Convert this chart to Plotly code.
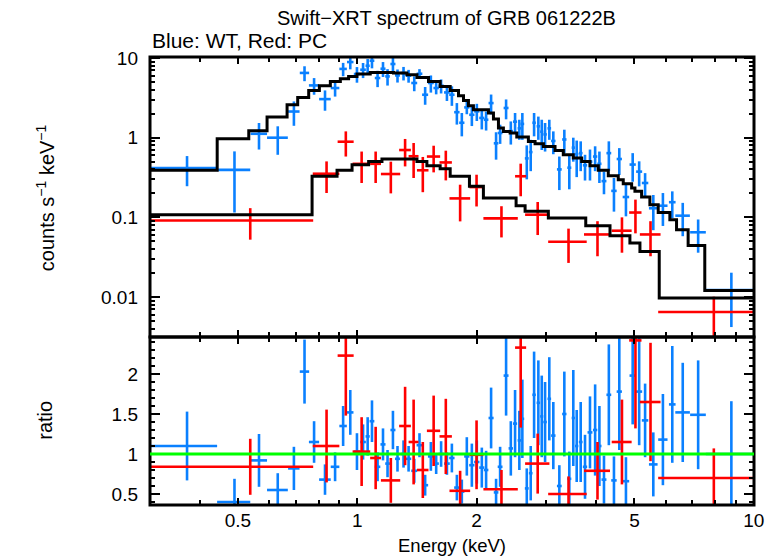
import math
import plotly.graph_objects as go

# ---------------- data ----------------
# WT mode (blue) spectrum: bin centre / half width (keV), counts s^-1 keV^-1 and error, ratio and error
wt_energy = [0.372, 0.490, 0.565, 0.630, 0.692, 0.736, 0.778, 0.829, 0.879, 0.921,
             0.960, 0.998, 1.034, 1.062, 1.089, 1.125, 1.161, 1.192, 1.230, 1.263,
             1.308, 1.347, 1.392, 1.435, 1.483, 1.533, 1.581, 1.627, 1.683, 1.732,
             1.783, 1.835, 1.889, 1.945, 2.002, 2.061, 2.113, 2.175, 2.239, 2.292,
             2.373, 2.439, 2.500, 2.563, 2.608, 2.676, 2.738, 2.792, 2.862, 2.919,
             2.976, 3.050, 3.122, 3.233, 3.328, 3.426, 3.506, 3.576, 3.660, 3.753,
             3.863, 3.98, 4.08, 4.19, 4.31, 4.44, 4.58, 4.76, 4.95, 5.14,
             5.32, 5.58, 5.90, 6.23, 6.62, 7.24, 8.78]
wt_energy_err = [0.071, 0.047, 0.027, 0.038, 0.023, 0.020, 0.023, 0.028, 0.022, 0.020,
                 0.018, 0.018, 0.017, 0.013, 0.015, 0.018, 0.017, 0.016, 0.018, 0.018,
                 0.021, 0.021, 0.024, 0.024, 0.026, 0.026, 0.025, 0.025, 0.028, 0.027,
                 0.028, 0.028, 0.029, 0.030, 0.031, 0.031, 0.028, 0.032, 0.030, 0.032,
                 0.034, 0.031, 0.030, 0.026, 0.028, 0.030, 0.029, 0.028, 0.029, 0.026,
                 0.030, 0.032, 0.040, 0.045, 0.042, 0.040, 0.033, 0.035, 0.040, 0.047,
                 0.055, 0.050, 0.050, 0.060, 0.060, 0.070, 0.070, 0.090, 0.090, 0.090,
                 0.100, 0.140, 0.160, 0.120, 0.280, 0.330, 1.210]
wt_counts = [0.417, 0.394, 1.12, 1.00, 2.13, 6.5, 4.53, 3.05, 4.2, 7.3,
             8.9, 6.3, 7.13, 8.0, 9.25, 5.61, 7.34, 5.88, 8.41, 6.05,
             6.48, 6.0, 4.86, 6.35, 3.46, 4.86, 4.20, 4.49, 3.70, 3.46,
             2.09, 1.54, 2.4, 1.94, 2.14, 1.77, 1.68, 2.72, 0.85, 1.146,
             2.36, 1.21, 1.59, 1.31, 1.49, 0.55, 0.66, 1.54, 1.39, 1.19,
             1.1, 1.31, 0.91, 0.40, 0.95, 0.42, 0.75, 0.62, 0.64, 0.45,
             0.50, 0.58, 0.47, 0.285, 0.64, 0.215, 0.54, 0.18, 0.46, 0.375,
             0.27, 0.13, 0.14, 0.155, 0.105, 0.065, 0.0122]
wt_counts_err = [0.171, 0.279, 0.41, 0.39, 0.72, 1.38, 1.07, 0.87, 0.92, 1.39,
                 1.69, 1.4, 1.53, 1.71, 1.83, 1.3, 1.56, 1.37, 1.6, 1.13,
                 1.25, 1.1, 1.03, 0.9, 0.87, 1.18, 0.7, 0.9, 0.81, 0.95,
                 0.63, 0.5, 0.43, 0.54, 0.52, 0.5, 0.45, 0.76, 0.32, 0.31,
                 0.66, 0.39, 0.45, 0.37, 0.55, 0.25, 0.28, 0.5, 0.45, 0.49,
                 0.43, 0.37, 0.29, 0.18, 0.31, 0.195, 0.25, 0.3, 0.26, 0.16,
                 0.21, 0.2, 0.2, 0.09, 0.26, 0.097, 0.2, 0.077, 0.18, 0.13,
                 0.089, 0.061, 0.062, 0.057, 0.047, 0.029, 0.008]
wt_ratio = [1.10, 0.40, 0.92, 0.55, 0.82, 2.03, 1.15, 0.68, 0.84, 1.35,
            1.52, 1.03, 1.15, 1.22, 1.41, 0.84, 1.12, 0.88, 1.30, 0.94,
            1.00, 0.94, 0.79, 1.11, 0.61, 0.97, 0.88, 1.00, 0.88, 0.95,
            0.58, 0.53, 0.97, 0.86, 0.90, 0.83, 0.80, 1.45, 0.52, 0.84,
            1.98, 1.07, 1.38, 1.17, 1.44, 0.57, 0.76, 1.74, 1.64, 1.47,
            1.40, 1.69, 1.23, 0.60, 1.50, 0.69, 1.45, 1.10, 1.15, 0.84,
            1.27, 1.30, 1.10, 0.68, 1.74, 0.67, 1.78, 0.66, 1.98, 1.78,
            1.42, 0.87, 1.18, 1.62, 1.52, 1.49, 1.00]
wt_ratio_err = [0.43, 0.29, 0.33, 0.21, 0.27, 0.40, 0.26, 0.19, 0.18, 0.25,
                0.28, 0.23, 0.22, 0.24, 0.26, 0.18, 0.20, 0.17, 0.24, 0.16,
                0.17, 0.16, 0.15, 0.15, 0.13, 0.18, 0.13, 0.16, 0.14, 0.18,
                0.16, 0.15, 0.24, 0.27, 0.27, 0.25, 0.24, 0.38, 0.17, 0.25,
                0.50, 0.34, 0.42, 0.37, 0.49, 0.25, 0.34, 0.54, 0.53, 0.51,
                0.50, 0.52, 0.42, 0.26, 0.53, 0.34, 0.60, 0.45, 0.50, 0.40,
                0.45, 0.57, 0.50, 0.30, 0.63, 0.30, 0.73, 0.30, 0.61, 0.67,
                0.46, 0.40, 0.57, 0.73, 0.62, 0.68, 0.66]

# PC mode (red) spectrum
pc_energy = [0.537, 0.8365, 0.9355, 1.0255, 1.1125, 1.215, 1.32, 1.387, 1.463, 1.558,
             1.672, 1.817, 1.999, 2.31, 2.583, 2.851, 3.41, 4.035, 4.651, 5.03,
             5.49, 7.93]
pc_energy_err = [0.237, 0.0645, 0.0435, 0.0525, 0.035, 0.068, 0.045, 0.04, 0.049, 0.06,
                 0.06, 0.109, 0.081, 0.23, 0.083, 0.201, 0.38, 0.304, 0.269, 0.18,
                 0.33, 2.19]
pc_counts = [0.0915, 0.353, 0.89, 0.47, 0.47, 0.35, 0.70, 0.585, 0.39, 0.58,
             0.489, 0.173, 0.24, 0.097, 0.328, 0.108, 0.0495, 0.061, 0.068, 0.115,
             0.061, 0.0065]
pc_counts_err = [0.039, 0.151, 0.31, 0.20, 0.20, 0.15, 0.264, 0.273, 0.183, 0.213,
                 0.198, 0.084, 0.103, 0.041, 0.144, 0.048, 0.0227, 0.0285, 0.032, 0.052,
                 0.0285, 0.0036]
pc_ratio = [0.84, 1.10, 2.23, 1.03, 0.95, 0.67, 1.35, 1.15, 0.80, 1.29,
            1.22, 0.54, 0.99, 0.56, 2.33, 0.88, 0.50, 0.79, 1.15, 2.42,
            1.65, 0.70]
pc_ratio_err = [0.35, 0.455, 0.75, 0.43, 0.39, 0.28, 0.49, 0.53, 0.35, 0.44,
                0.47, 0.25, 0.43, 0.24, 1.0, 0.375, 0.22, 0.36, 0.53, 1.1,
                0.74, 0.37]

# best-fit model (histogram steps): bin edges (keV) and model values
wt_model_edges = [0.3, 0.4432, 0.5324, 0.5921, 0.6651, 0.7074, 0.7541, 0.8023, 0.8551, 0.9062,
                  0.9508, 0.998, 1.078, 1.234, 1.334, 1.414, 1.512, 1.618, 1.715, 1.800,
                  1.853, 1.907, 1.963, 2.142, 2.205, 2.270, 2.336, 2.429, 2.525, 2.701,
                  2.808, 2.947, 3.153, 3.308, 3.506, 3.681, 3.863, 4.054, 4.296, 4.552,
                  4.686, 4.920, 5.015, 5.213, 5.470, 5.741, 6.143, 6.386, 6.831, 7.524,
                  10.0]
wt_model_vals = [0.389, 0.971, 1.224, 1.818, 2.594, 3.203, 3.922, 4.49, 5.09, 5.50,
                 5.88, 6.30, 6.60, 6.48, 6.17, 5.71, 5.09, 4.40, 3.922, 3.365,
                 2.938, 2.52, 2.25, 2.04, 1.717, 1.32, 1.20, 1.146, 1.02, 0.899,
                 0.841, 0.778, 0.693, 0.612, 0.556, 0.504, 0.445, 0.389, 0.334, 0.297,
                 0.265, 0.234, 0.212, 0.180, 0.144, 0.1155, 0.0936, 0.0701, 0.0442, 0.0121]
pc_model_edges = [0.3, 0.769, 0.889, 0.970, 1.068, 1.154, 1.414, 1.498, 1.618, 1.715,
                  1.918, 2.080, 2.515, 2.650, 3.033, 3.769, 4.339, 4.871, 5.163, 5.775,
                  10.0]
pc_model_vals = [0.108, 0.327, 0.389, 0.458, 0.504, 0.540, 0.504, 0.445, 0.408, 0.327,
                 0.245, 0.175, 0.140, 0.119, 0.0983, 0.0787, 0.0589, 0.0477, 0.0374, 0.00975]

ratio_reference = 1.0

# axis ticks / labels
energy_tick_vals = [0.5, 1, 2, 5, 10]
energy_tick_text = ["0.5", "1", "2", "5", "10"]
energy_minor_vals = [0.3, 0.4, 0.6, 0.7, 0.8, 0.9, 3, 4, 6, 7, 8, 9]
counts_tick_vals = [0.01, 0.1, 1, 10]
counts_tick_text = ["0.01", "0.1", "1", "10"]
ratio_tick_vals = [0.5, 1, 1.5, 2]
ratio_tick_text = ["0.5", "1", "1.5", "2"]

title_text = "Swift\u2212XRT spectrum of GRB 061222B"
subtitle_text = "Blue: WT, Red: PC"
counts_title = "counts s<sup>\u22121</sup> keV<sup>\u22121</sup>"
ratio_title = "ratio"
energy_title = "Energy (keV)"

# ---------------- styling ----------------
BLUE = "#0A80FF"
RED = "#FF0000"
GREEN = "#00FF00"
FONT = "Liberation Sans, Arial, sans-serif"
EB = 2.6

counts_minor_vals = [m * d for d in (0.001, 0.01, 0.1, 1) for m in range(2, 10)]
ratio_minor_vals = [round(0.3 + 0.1 * i, 2) for i in range(22)]

fig = go.Figure()


def data_trace(x, xe, y, ye, color, xa, ya):
    return go.Scatter(
        x=x, y=y, mode="markers", xaxis=xa, yaxis=ya, showlegend=False,
        marker=dict(size=2, color=color),
        error_x=dict(type="data", array=xe, color=color, thickness=EB, width=0),
        error_y=dict(type="data", array=ye, color=color, thickness=EB, width=0),
        hoverinfo="skip",
    )


fig.add_trace(data_trace(wt_energy, wt_energy_err, wt_counts, wt_counts_err, BLUE, "x", "y"))
fig.add_trace(data_trace(pc_energy, pc_energy_err, pc_counts, pc_counts_err, RED, "x", "y"))
for edges, vals in ((wt_model_edges, wt_model_vals), (pc_model_edges, pc_model_vals)):
    fig.add_trace(go.Scatter(
        x=edges, y=list(vals) + [vals[-1]], mode="lines", xaxis="x", yaxis="y",
        line=dict(color="black", width=3, shape="hv"), showlegend=False, hoverinfo="skip"))

fig.add_trace(data_trace(wt_energy, wt_energy_err, wt_ratio, wt_ratio_err, BLUE, "x2", "y2"))
fig.add_trace(data_trace(pc_energy, pc_energy_err, pc_ratio, pc_ratio_err, RED, "x2", "y2"))

xr = [math.log10(0.3), math.log10(10) + 0.0006]
common_x = dict(type="log", range=xr, showline=False, showgrid=False, zeroline=False,
                ticks="inside", mirror="ticks", ticklen=7, tickwidth=2, tickcolor="black",
                tickvals=energy_tick_vals, ticktext=energy_tick_text,
                minor=dict(tickvals=energy_minor_vals, ticks="inside", ticklen=5,
                           tickwidth=2, tickcolor="black", showgrid=False),
                tickfont=dict(family=FONT, size=19, color="black"))

fig.update_layout(
    width=778, height=556,
    margin=dict(l=150, r=24, t=57, b=51),
    paper_bgcolor="white", plot_bgcolor="white",
    font=dict(family=FONT, color="black"),
    hovermode=False,
    xaxis=dict(common_x, anchor="y", showticklabels=False, domain=[0, 1]),
    xaxis2=dict(common_x, anchor="y2", matches="x", domain=[0, 1], ticklabelstandoff=2),
    yaxis=dict(type="log", domain=[0.375, 1], anchor="x",
               range=[math.log10(0.00315), math.log10(10.3)],
               showline=False, showgrid=False, zeroline=False,
               ticks="inside", mirror="ticks", ticklen=10, tickwidth=2, tickcolor="black",
               tickvals=counts_tick_vals, ticktext=counts_tick_text,
               minor=dict(tickvals=counts_minor_vals, ticks="inside", ticklen=5,
                          tickwidth=2, tickcolor="black", showgrid=False),
               tickfont=dict(family=FONT, size=19, color="black"), ticklabelstandoff=11),
    yaxis2=dict(domain=[0, 0.375], anchor="x2", range=[0.3625, 2.4625],
                showline=False, showgrid=False, zeroline=False,
                ticks="inside", mirror="ticks", ticklen=10, tickwidth=2, tickcolor="black",
                tickvals=ratio_tick_vals, ticktext=ratio_tick_text,
                minor=dict(tickvals=ratio_minor_vals, ticks="inside", ticklen=5,
                           tickwidth=2, tickcolor="black", showgrid=False),
                tickfont=dict(family=FONT, size=19, color="black"), ticklabelstandoff=11),
)

# frames and reference line
for yref in ("y domain", "y2 domain"):
    fig.add_shape(type="rect", xref="x domain", yref=yref, x0=0, x1=1, y0=0, y1=1,
                  line=dict(color="black", width=3), fillcolor="rgba(0,0,0,0)", layer="above")
fig.add_shape(type="line", xref="x2 domain", yref="y2", x0=0, x1=1,
              y0=ratio_reference, y1=ratio_reference,
              line=dict(color=GREEN, width=3), layer="above")

# texts
fig.add_annotation(text=title_text, xref="paper", yref="paper", x=0.491, y=1.087,
                   xanchor="center", yanchor="middle", showarrow=False,
                   font=dict(family=FONT, size=20, color="black"))
fig.add_annotation(text=subtitle_text, xref="paper", yref="paper", x=0.0, y=1.037,
                   xanchor="left", yanchor="middle", showarrow=False,
                   font=dict(family=FONT, size=21, color="black"))
fig.add_annotation(text=counts_title, xref="paper", yref="paper",
                   x=-0.174, y=0.687, textangle=-90, xanchor="center", yanchor="middle",
                   showarrow=False, font=dict(family=FONT, size=20, color="black"))
fig.add_annotation(text=ratio_title, xref="paper", yref="paper", x=-0.174, y=0.19, textangle=-90,
                   xanchor="center", yanchor="middle", showarrow=False,
                   font=dict(family=FONT, size=20, color="black"))
fig.add_annotation(text=energy_title, xref="paper", yref="paper", x=0.5, y=-0.0915,
                   xanchor="center", yanchor="middle", showarrow=False,
                   font=dict(family=FONT, size=18.5, color="black"))

fig.write_html("out.html", config={"displayModeBar": False, "staticPlot": True},
               post_script="document.body.style.margin='0px';")
